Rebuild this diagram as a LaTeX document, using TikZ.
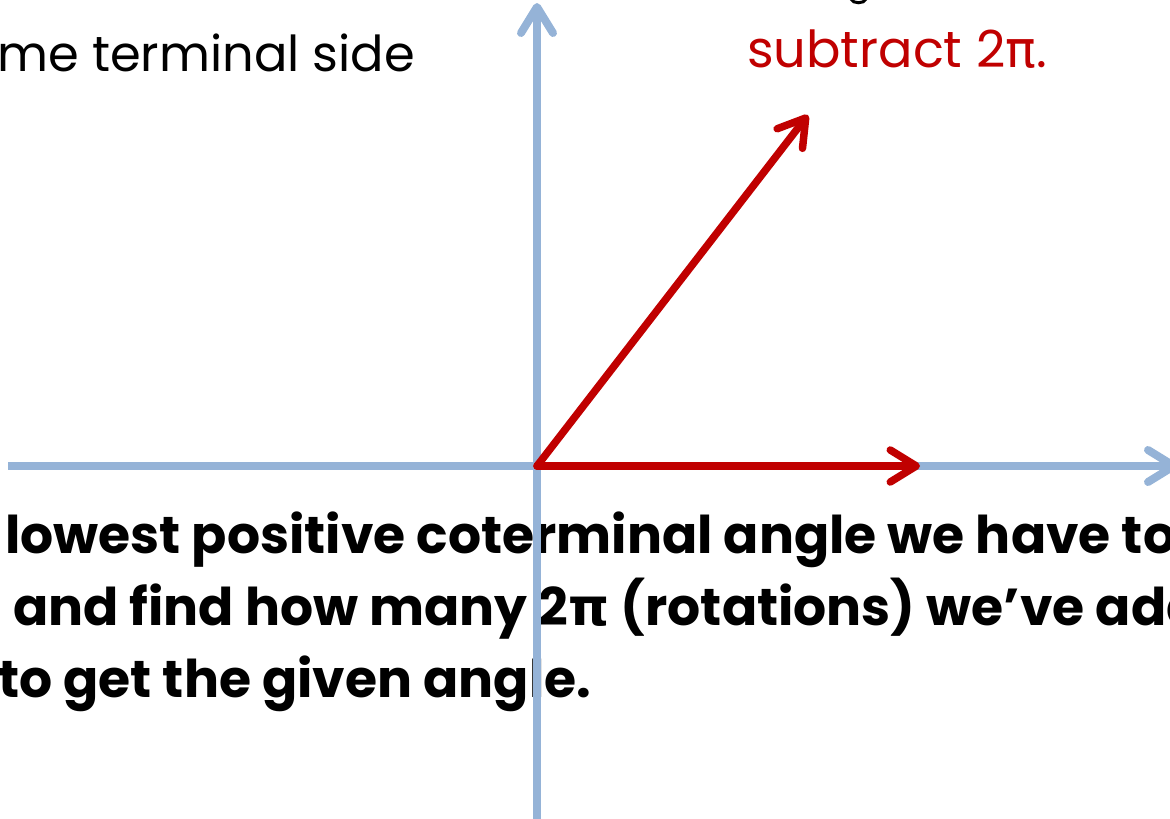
\documentclass[tikz,border=0pt]{standalone}
\usepackage{fontspec}
\setmainfont{Poppins}
\newfontfamily\pifont{DejaVu Sans}
\usetikzlibrary{arrows.meta}
\definecolor{axisblue}{HTML}{95B3D7}
\definecolor{darkred}{HTML}{C00000}
\tikzset{
  txt/.style={anchor=base west, inner sep=0pt, font=\fontsize{49.5}{54}\selectfont},
  redtxt/.style={anchor=base west, inner sep=0pt, text=darkred, font=\fontsize{51}{54}\selectfont},
  boldtxt/.style={anchor=base west, inner sep=0pt, font=\fontsize{52}{56}\selectfont\bfseries},
  axis/.style={draw=axisblue, line width=8pt,
    -{Straight Barb[length=26pt,width=32pt,line cap=round,line join=round]}},
  vec/.style={draw=darkred, line width=7.5pt, line cap=round,
    -{Straight Barb[length=26pt,width=32pt,line cap=round,line join=round]}}
}
\begin{document}
\begin{tikzpicture}[x=1pt,y=-1pt]
\useasboundingbox (0,0) rectangle (1170,819);
\clip (0,0) rectangle (1170,819);
% text
\node[txt] (t1) at (-3,71) {me terminal side};
\node[redtxt] (t2) at (747,67) {subtract 2{\pifont π}.};
\node[boldtxt] (b1) at (5,553) {lowest positive coterminal angle we have to};
\node[boldtxt] (b2) at (13,625) {and find how many 2{\pifont\bfseries π} (rotations) we’ve added};
\node[boldtxt] (b3) at (-2,697) {to get the given angle.};
% descender fragment of a letter cut off at the top edge
\draw[line width=3pt, line cap=round] (851,-1) .. controls (853,4) and (864,4) .. (866,-1);
% axes
\coordinate (O) at (537,466);
\coordinate (xl) at (8,466);
\coordinate (xr) at (1178,466);
\coordinate (yb) at (537,830);
\coordinate (yt) at (537,3);
\draw[axis] (xl) -- (xr);
\draw[axis] (yb) -- (yt);
% vectors
\coordinate (p1) at (920,466);
\coordinate (p2) at (808,115);
\draw[vec] (O) -- (p1);
\draw[vec] (O) -- (p2);
\end{tikzpicture}
\end{document}
